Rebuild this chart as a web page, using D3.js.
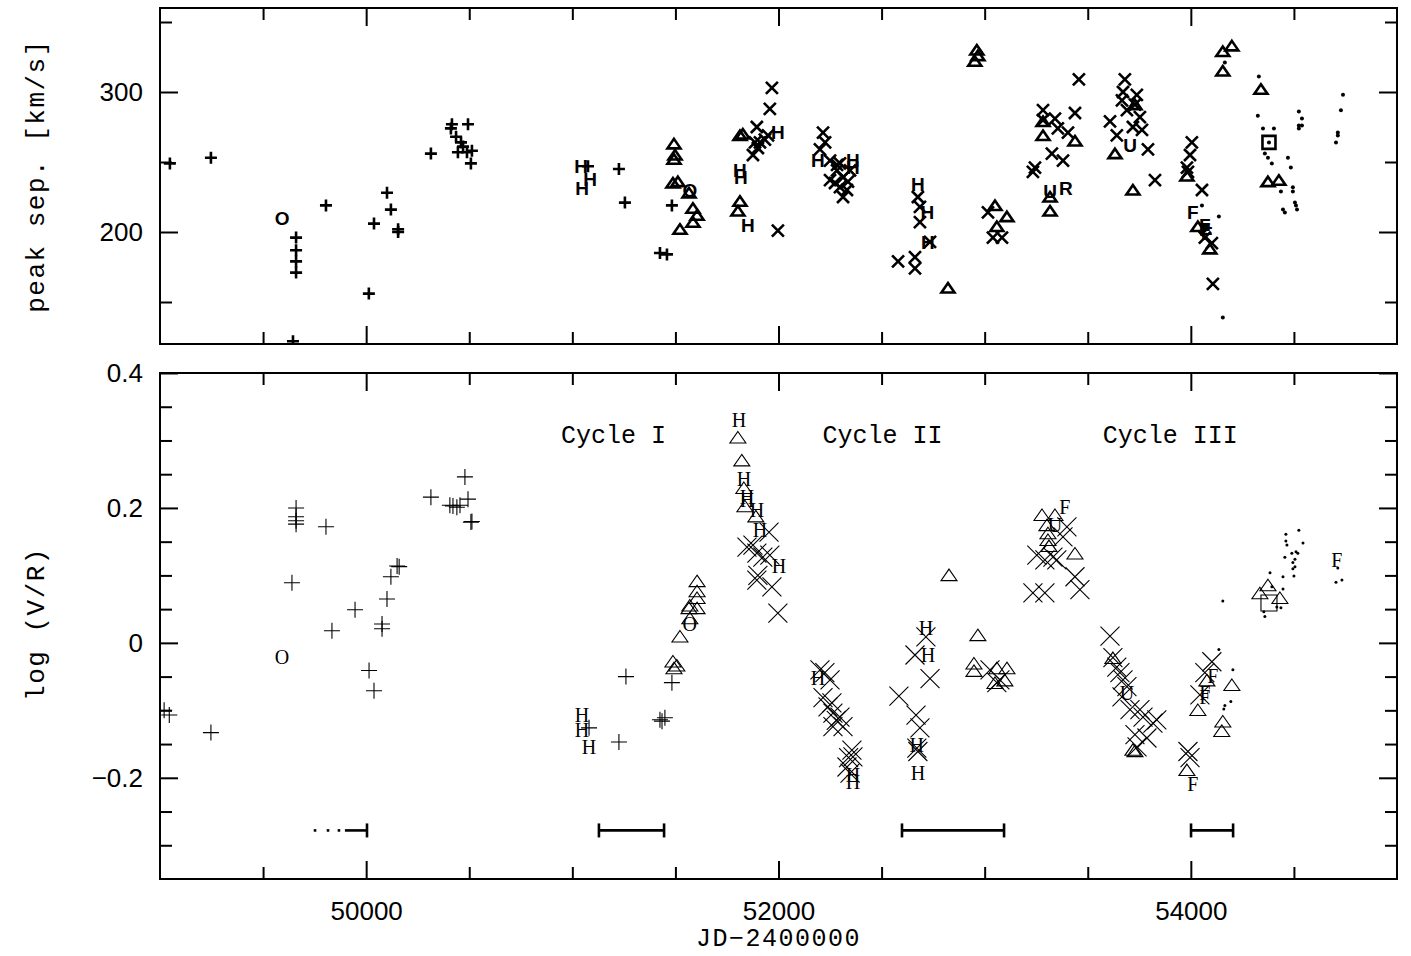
<!DOCTYPE html>
<html>
<head>
<meta charset="utf-8">
<script src="https://cdn.jsdelivr.net/npm/d3@7"></script>
<style>
  html, body { margin: 0; padding: 0; background: #fff; }
  svg { display: block; }
</style>
</head>
<body>
<div id="chart"></div>
<script>
// ---- peak separation [km/s] (upper panel), one array per observing source ----
const sepPlus = [[49048,249],[49247,253],[49660,196],[49660,187],[49660,179],[49660,171],[49645,122],[49805,219],
  [50013,156],[50038,206],[50101,228],[50120,216],[50155,202],[50155,200],[50314,256],[50416,277],[50411,274],
  [50494,277],[50436,268],[50460,264],[50445,257],[50489,257],[50513,258],[50470,261],[50508,249],
  [51076,247],[51226,245],[51255,221],[51425,185],[51459,184],[51483,219]];
const sepO = [[49592,210],[51570,230]];
const sepH = [[51042,247],[51086,238],[51047,231],[51813,244],[51818,239],[51852,205],[51997,271],[52191,251],
  [52361,251],[52361,246],[52676,234],[52722,214],[52725,193]];
const sepTri = [[51493,262],[51498,254],[51493,251],[51488,234],[51512,235],[51566,227],[51585,216],[51605,211],
  [51585,206],[51522,201],[51813,268],[51827,269],[51813,221],[51803,214],[52822,159],[52962,329],[52967,325],
  [52952,321],[53050,218],[53108,210],[53059,203],[53283,278],[53283,268],[53438,264],[53317,224],[53317,214],
  [53632,255],[53719,229],[53729,290],[53981,239],[54034,203],[54092,187],[54155,328],[54199,332],[54155,314],
  [54340,301],[54374,235],[54427,236]];
const sepCross = [[51968,303],[51958,288],[51895,275],[51886,264],[51910,264],[51934,266],[51949,269],[51900,260],
  [51876,255],[51997,201],[52216,271],[52226,264],[52201,259],[52250,251],[52284,244],[52313,239],[52274,235],
  [52313,225],[52347,244],[52298,249],[52284,248],[52332,230],[52250,237],[52337,236],[52298,232],
  [52676,225],[52686,218],[52686,207],[52735,193],[52580,179],[52662,182],[52662,174],
  [53016,214],[53040,196],[53084,196],[53283,287],[53283,280],[53341,281],[53355,274],[53404,271],[53438,285],
  [53457,309],[53326,256],[53380,251],[53234,243],[53244,246],[53680,309],[53671,300],[53666,294],[53738,298],
  [53729,291],[53690,287],[53608,279],[53641,269],[53753,282],[53763,273],[53792,259],[53826,237],[53719,275],
  [54005,264],[53996,255],[53981,246],[53986,243],[54054,230],[54068,196],[54102,192],[54107,163]];
const sepU = [[53317,229],[53705,262]];
const sepR = [[53394,231]];
const sepF = [[54010,214],[54068,205],[54068,202],[54078,199]];
const sepSquare = [[54379,264]];
const sepDot = [[54054,219],[54136,211],[54155,139],[54165,321],[54330,311],[54325,283],[54350,274],[54403,274],
  [54379,264],[54359,256],[54374,253],[54393,249],[54437,229],[54471,253],[54485,246],[54495,232],[54495,229],
  [54447,216],[54456,214],[54505,221],[54510,219],[54515,216],[54524,286],[54539,281],[54524,276],[54539,276],
  [54524,274],[54738,298],[54728,287],[54713,271],[54713,269],[54704,264]];

// ---- log (V/R) (lower panel) ----
const vrPlus = [[49020,-0.100],[49045,-0.107],[49247,-0.133],[49660,0.200],[49660,0.187],[49660,0.181],[49660,0.176],
  [49640,0.089],[49805,0.172],[49834,0.018],[49946,0.049],[50014,-0.041],[50038,-0.071],[50077,0.028],[50077,0.021],
  [50101,0.065],[50120,0.098],[50150,0.114],[50160,0.113],[50314,0.216],[50406,0.204],[50421,0.203],[50440,0.201],
  [50455,0.204],[50494,0.213],[50479,0.246],[50508,0.179],[50513,0.180],[51081,-0.126],[51226,-0.147],
  [51260,-0.050],[51425,-0.114],[51449,-0.111],[51435,-0.116],[51483,-0.059]];
const vrO = [[49592,-0.021],[51570,0.027]];
const vrH = [[51047,-0.107],[51047,-0.129],[51081,-0.154],[51808,0.330],[51832,0.243],[51847,0.216],[51847,0.212],
  [51895,0.197],[51910,0.167],[52002,0.113],[52191,-0.052],[52361,-0.196],[52361,-0.207],[52671,-0.151],
  [52676,-0.193],[52715,0.022],[52725,-0.018]];
const vrTri = [[51488,-0.030],[51507,-0.036],[51493,-0.040],[51522,0.007],[51570,0.053],[51570,0.034],[51605,0.089],
  [51605,0.074],[51605,0.064],[51605,0.049],[51566,0.049],[51803,0.302],[51822,0.268],[51837,0.200],[51832,0.227],
  [51890,0.185],[52827,0.098],[52967,0.009],[52948,-0.033],[52948,-0.044],[53059,-0.040],[53108,-0.040],
  [53098,-0.058],[53050,-0.062],[53278,0.187],[53341,0.187],[53302,0.172],[53307,0.160],[53307,0.150],
  [53312,0.141],[53438,0.130],[53622,-0.025],[53719,-0.161],[53729,-0.163],[53981,-0.191],[54078,-0.058],
  [54034,-0.102],[54199,-0.065],[54155,-0.119],[54150,-0.133],[54335,0.071],[54374,0.083],[54432,0.064]];
const vrCross = [[51847,0.142],[51876,0.145],[51895,0.133],[51924,0.127],[51958,0.130],[51900,0.100],[51895,0.093],
  [51968,0.083],[51954,0.164],[51997,0.044],[52201,-0.040],[52225,-0.044],[52250,-0.055],[52216,-0.081],
  [52259,-0.089],[52264,-0.104],[52298,-0.110],[52264,-0.124],[52313,-0.124],[52356,-0.159],[52361,-0.169],
  [52332,-0.184],[52347,-0.193],[52240,-0.095],[52280,-0.115],[52340,-0.170],[52584,-0.079],[52667,-0.107],
  [52686,-0.126],[52671,-0.156],[52676,-0.161],[52715,0.009],[52662,-0.018],[52735,-0.053],[53026,-0.040],
  [53074,-0.055],[53059,-0.059],[53399,0.172],[53380,0.157],[53253,0.130],[53292,0.123],[53331,0.127],
  [53350,0.123],[53438,0.098],[53462,0.079],[53234,0.074],[53292,0.074],[53608,0.010],[53622,-0.022],
  [53641,-0.036],[53656,-0.044],[53671,-0.055],[53690,-0.065],[53666,-0.080],[53705,-0.099],[53753,-0.099],
  [53768,-0.110],[53816,-0.119],[53835,-0.114],[53729,-0.136],[53787,-0.141],[53739,-0.154],[53986,-0.161],
  [53996,-0.170],[54102,-0.028],[54068,-0.044],[54044,-0.077]];
const vrU = [[53341,0.175],[53690,-0.074]];
const vrF = [[53389,0.201],[54010,-0.210],[54107,-0.050],[54068,-0.074],[54068,-0.081],[54708,0.123]];
const vrSquare = [[54379,0.059]];
const vrDot = [[54136,-0.010],[54204,-0.040],[54194,-0.087],[54165,-0.093],[54160,-0.098],[54155,0.062],
  [54461,0.161],[54524,0.167],[54461,0.151],[54544,0.148],[54466,0.145],[54490,0.133],[54510,0.135],[54519,0.133],
  [54456,0.127],[54505,0.124],[54495,0.119],[54505,0.113],[54495,0.110],[54500,0.099],[54447,0.098],[54447,0.080],
  [54384,0.104],[54393,0.083],[54359,0.039],[54354,0.046],[54417,0.053],[54437,0.052],[54713,0.111],[54704,0.090],
  [54733,0.093]];

// cycle annotations and the bars marking each cycle's length
const cycleNames = ["Cycle I", "Cycle II", "Cycle III"];
const cycleJD = [51200, 52505, 53900];
const barStart = [49897, 51129, 52599, 54001];
const barEnd = [50004, 51445, 53094, 54205];
const barLeftCap = [false, true, true, true];
const barLeadDots = [49752, 49815, 49868];

const xMajor = [50000, 52000, 54000];
const xMinor = [49500, 50500, 51000, 51500, 52500, 53000, 53500, 54500];
const sepMajor = [200, 300];
const sepMinor = [150, 250, 350];
const vrMajor = [0.4, 0.2, 0, -0.2];
const vrMinor = [0.35, 0.3, 0.25, 0.15, 0.1, 0.05, -0.05, -0.1, -0.15, -0.25, -0.3];

const width = 1411, height = 956;
const left = 160, right = 1397;

const svg = d3.select("#chart").append("svg")
    .attr("width", width)
    .attr("height", height)
    .attr("viewBox", `0 0 ${width} ${height}`);

const x = d3.scaleLinear().domain([49000, 55000]).range([left, right]);
const ySep = d3.scaleLinear().domain([120, 360]).range([344, 8]);
const yVR = d3.scaleLinear().domain([-0.35, 0.4]).range([879, 373]);

const tickFont = "'Liberation Sans', Arial, sans-serif";
const titleFont = "'Liberation Mono', 'Courier New', monospace";

const boldStyle = { sw: 2.6, plus: 6, cross: 6, triW: 6.5, triH: 9.5, sq: 6.5, dot: 2,
    family: "'Liberation Sans', Arial, sans-serif", weight: "bold", size: 19, dy: "0.36em" };
const thinStyle = { sw: 1.1, plus: 8, cross: 9.5, triW: 8, triH: 11.5, sq: 8, dot: 1.5,
    family: "'Liberation Serif', 'Times New Roman', serif", weight: "normal", size: 20, dy: "0.34em" };

function shapePath(kind, st) {
    if (kind === "plus") return `M${-st.plus},0H${st.plus}M0,${-st.plus}V${st.plus}`;
    if (kind === "cross") return `M${-st.cross},${-st.cross}L${st.cross},${st.cross}M${-st.cross},${st.cross}L${st.cross},${-st.cross}`;
    if (kind === "tri") return `M0,${-st.triH * 2 / 3}L${st.triW},${st.triH / 3}L${-st.triW},${st.triH / 3}Z`;
    if (kind === "square") return `M${-st.sq},${-st.sq}H${st.sq}V${st.sq}H${-st.sq}Z`;
    return "";
}

function drawPanel(y, top, bottom, series, st, id) {
    svg.append("clipPath").attr("id", id)
        .append("rect")
        .attr("x", left).attr("y", top)
        .attr("width", right - left).attr("height", bottom - top);

    const g = svg.append("g").attr("clip-path", `url(#${id})`);

    series.forEach(([data, kind]) => {
        const sel = g.append("g").selectAll(null).data(data).enter();
        if (kind.length === 1) {
            sel.append("text")
                .attr("x", d => x(d[0]))
                .attr("y", d => y(d[1]))
                .attr("dy", st.dy)
                .attr("text-anchor", "middle")
                .attr("font-family", st.family)
                .attr("font-weight", st.weight)
                .attr("font-size", st.size)
                .text(kind);
        } else if (kind === "dot") {
            sel.append("circle")
                .attr("cx", d => x(d[0]))
                .attr("cy", d => y(d[1]))
                .attr("r", st.dot)
                .attr("fill", "#000");
        } else {
            sel.append("path")
                .attr("transform", d => `translate(${x(d[0])},${y(d[1])})`)
                .attr("d", shapePath(kind, st))
                .attr("fill", "none")
                .attr("stroke", "#000")
                .attr("stroke-width", st.sw)
                .attr("stroke-linejoin", "miter");
        }
    });
}

function drawAxes(y, top, bottom, yMajor, yMinor, yFormat, xLabels) {
    const axes = [
        [d3.axisBottom(x).tickValues(xMajor).tickSize(-18).tickPadding(23)
            .tickFormat(xLabels ? d3.format("d") : ""), `translate(0,${bottom})`],
        [d3.axisBottom(x).tickValues(xMinor).tickSize(-12).tickFormat(""), `translate(0,${bottom})`],
        [d3.axisTop(x).tickValues(xMajor).tickSize(-18).tickFormat(""), `translate(0,${top})`],
        [d3.axisTop(x).tickValues(xMinor).tickSize(-12).tickFormat(""), `translate(0,${top})`],
        [d3.axisLeft(y).tickValues(yMajor).tickSize(-18).tickPadding(17).tickFormat(yFormat), `translate(${left},0)`],
        [d3.axisLeft(y).tickValues(yMinor).tickSize(-12).tickFormat(""), `translate(${left},0)`],
        [d3.axisRight(y).tickValues(yMajor).tickSize(-18).tickFormat(""), `translate(${right},0)`],
        [d3.axisRight(y).tickValues(yMinor).tickSize(-12).tickFormat(""), `translate(${right},0)`]
    ];
    axes.forEach(([axis, tr]) => {
        const g = svg.append("g").attr("transform", tr).call(axis);
        g.select(".domain").remove();
        g.selectAll(".tick line").attr("stroke", "#000").attr("stroke-width", 2);
        g.attr("font-family", tickFont).attr("font-size", 26);
        g.selectAll(".tick text").attr("fill", "#000");
    });

    svg.append("rect")
        .attr("x", left).attr("y", top)
        .attr("width", right - left).attr("height", bottom - top)
        .attr("fill", "none")
        .attr("stroke", "#000")
        .attr("stroke-width", 2);
}

// upper panel
drawPanel(ySep, 8, 344, [
    [sepPlus, "plus"], [sepO, "O"], [sepH, "H"], [sepTri, "tri"], [sepCross, "cross"],
    [sepU, "U"], [sepR, "R"], [sepF, "F"], [sepSquare, "square"], [sepDot, "dot"]
], boldStyle, "clipTop");
drawAxes(ySep, 8, 344, sepMajor, sepMinor, d3.format("d"), false);

// lower panel
drawPanel(yVR, 373, 879, [
    [vrPlus, "plus"], [vrO, "O"], [vrH, "H"], [vrTri, "tri"], [vrCross, "cross"],
    [vrU, "U"], [vrF, "F"], [vrSquare, "square"], [vrDot, "dot"]
], thinStyle, "clipBottom");
drawAxes(yVR, 373, 879, vrMajor, vrMinor, d => d === 0 ? "0" : d3.format(".1f")(d).replace("-", "\u2212"), true);

// cycle length bars
const barY = yVR(-0.278);
const bars = svg.append("g").attr("stroke", "#000").attr("stroke-width", 2.6);
bars.selectAll(null).data(barStart).enter().append("line")
    .attr("x1", d => x(d)).attr("x2", (d, i) => x(barEnd[i]))
    .attr("y1", barY).attr("y2", barY);
bars.selectAll(null).data(barEnd).enter().append("line")
    .attr("x1", d => x(d)).attr("x2", d => x(d))
    .attr("y1", barY - 7).attr("y2", barY + 7);
bars.selectAll(null).data(barStart.filter((d, i) => barLeftCap[i])).enter().append("line")
    .attr("x1", d => x(d)).attr("x2", d => x(d))
    .attr("y1", barY - 7).attr("y2", barY + 7);
svg.append("g").selectAll(null).data(barLeadDots).enter().append("rect")
    .attr("x", d => x(d) - 1.3).attr("y", barY - 1.3)
    .attr("width", 2.6).attr("height", 2.6)
    .attr("fill", "#000");

// cycle labels
svg.append("g").selectAll(null).data(cycleNames).enter().append("text")
    .attr("x", (d, i) => x(cycleJD[i]))
    .attr("y", yVR(0.296))
    .attr("text-anchor", "middle")
    .attr("font-family", titleFont)
    .attr("font-size", 25)
    .attr("fill", "#000")
    .text(d => d);

// axis titles
svg.append("text")
    .attr("transform", `translate(44,176) rotate(-90)`)
    .attr("text-anchor", "middle")
    .attr("font-family", titleFont)
    .attr("font-size", 26)
    .attr("letter-spacing", 1.5)
    .text("peak sep. [km/s]");

svg.append("text")
    .attr("transform", `translate(44,624) rotate(-90)`)
    .attr("text-anchor", "middle")
    .attr("font-family", titleFont)
    .attr("font-size", 26)
    .attr("letter-spacing", 1.5)
    .text("log (V/R)");

svg.append("text")
    .attr("x", x(52000))
    .attr("y", 946)
    .attr("text-anchor", "middle")
    .attr("font-family", titleFont)
    .attr("font-size", 25)
    .attr("letter-spacing", 1.5)
    .text("JD\u22122400000");
</script>
</body>
</html>
